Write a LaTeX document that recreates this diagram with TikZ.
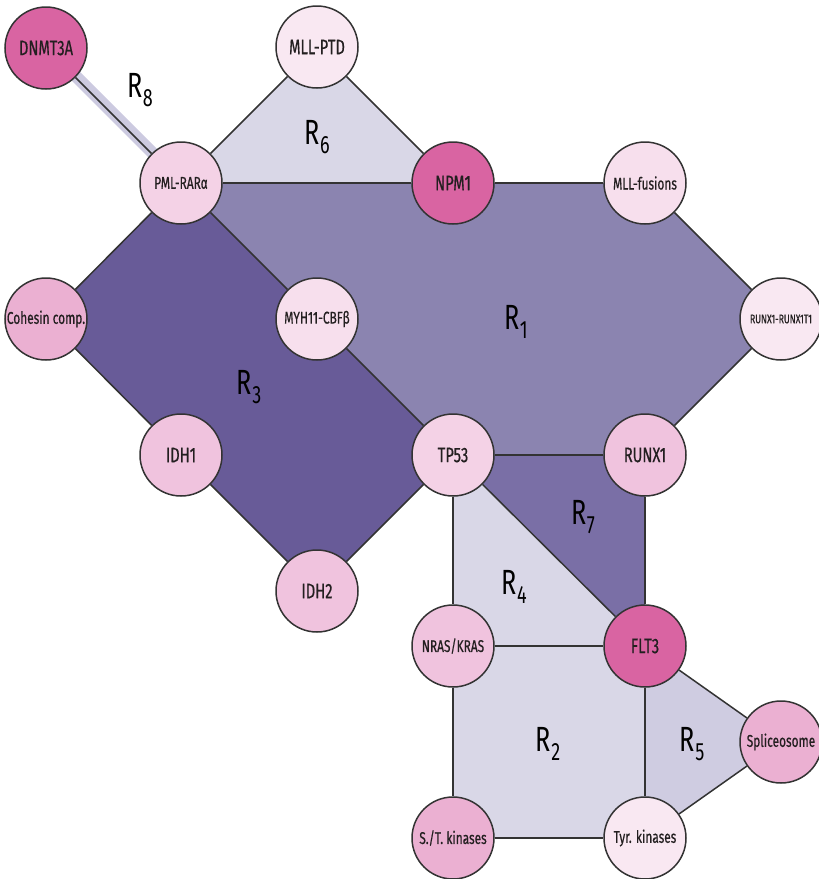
\documentclass[tikz,border=0pt]{standalone}
\usepackage{fontspec}
\setmainfont{Fira Sans}[FakeStretch=0.7, FakeBold=0.5]
\newfontfamily\regfont{Fira Sans}[FakeStretch=0.72]
\usetikzlibrary{backgrounds}
\definecolor{edgec}{HTML}{333333}
\definecolor{inkc}{HTML}{231F20}
\definecolor{rone}{HTML}{8B84B0}
\definecolor{rthree}{HTML}{685B98}
\definecolor{rseven}{HTML}{7A6FA6}
\definecolor{rlight}{HTML}{D9D7E7}
\definecolor{rfive}{HTML}{CFCCE1}
\definecolor{rband}{HTML}{CCCAE0}
\definecolor{cA}{HTML}{D964A2}
\definecolor{cB}{HTML}{EBB0D2}
\definecolor{cC}{HTML}{F0C3DE}
\definecolor{cD}{HTML}{F4D2E6}
\definecolor{cE}{HTML}{F7DFED}
\definecolor{cF}{HTML}{F9E8F2}
\tikzset{
  gene/.style={circle, draw=edgec, line width=1.5pt, minimum size=82pt, inner sep=0pt,
    text=inkc, font=\fontsize{21}{21}\selectfont},
  small/.style={font=\fontsize{17}{17}\selectfont},
  tiny/.style={font=\fontsize{12.5}{12.5}\selectfont},
  link/.style={draw=edgec, line width=1.5pt},
  rlab/.style={font=\regfont\fontsize{35}{35}\selectfont, text=black, inner sep=0pt},
}
\newcommand{\Rg}[1]{R\kern0.5pt\raisebox{-9pt}{\fontsize{25}{25}\selectfont #1}}
\begin{document}
\begin{tikzpicture}[x=1pt, y=-1pt]
\useasboundingbox (0,0) rectangle (819,879);

% genes
\node[gene, fill=cA] (dnmt) at (46,48) {DNMT3A};
\node[gene, fill=cF] (mllptd) at (317,47) {MLL-PTD};
\node[gene, small, fill=cD] (pml) at (181,183) {PML-RARα};
\node[gene, fill=cA] (npm) at (453,183) {NPM1};
\node[gene, small, fill=cE] (mllf) at (645,183) {MLL-fusions};
\node[gene, small, fill=cB] (coh) at (46,319) {Cohesin comp.};
\node[gene, small, fill=cE] (myh) at (317,319) {MYH11-CBFβ};
\node[gene, tiny, fill=cF] (rrt) at (781,319) {RUNX1-RUNX1T1};
\node[gene, fill=cC] (idha) at (181,455) {IDH1};
\node[gene, fill=cD] (tp) at (453,455) {TP53};
\node[gene, fill=cC] (runx) at (645,455) {RUNX1};
\node[gene, fill=cC] (idhb) at (317,591) {IDH2};
\node[gene, small, fill=cC] (ras) at (453,646) {NRAS/KRAS};
\node[gene, fill=cA] (flt) at (645,646) {FLT3};
\node[gene, small, fill=cB] (spl) at (781,742) {Spliceosome};
\node[gene, small, fill=cB] (stk) at (453,838) {S./T. kinases};
\node[gene, small, fill=cF] (tyk) at (645,838) {Tyr. kinases};

\begin{scope}[on background layer]
  % regions
  \fill[rone] (pml.center) -- (npm.center) -- (mllf.center) -- (rrt.center)
     -- (runx.center) -- (tp.center) -- (myh.center) -- cycle;
  \fill[rthree] (pml.center) -- (myh.center) -- (tp.center) -- (idhb.center)
     -- (idha.center) -- (coh.center) -- cycle;
  \fill[rlight] (pml.center) -- (mllptd.center) -- (npm.center) -- cycle;
  \fill[rseven] (tp.center) -- (runx.center) -- (flt.center) -- cycle;
  \fill[rlight] (tp.center) -- (flt.center) -- (ras.center) -- cycle;
  \fill[rlight] (ras.center) -- (flt.center) -- (tyk.center) -- (stk.center) -- cycle;
  \fill[rfive] (flt.center) -- (spl.center) -- (tyk.center) -- cycle;
  % R8: a pale band along the DNMT3A link
  \draw[rband, line width=12pt] ([shift={(0.8,-0.8)}]dnmt.center) -- ([shift={(0.8,-0.8)}]pml.center);

  % links
  \path[link] (dnmt) -- (pml);
  \path[link] (pml) -- (mllptd);
  \path[link] (mllptd) -- (npm);
  \path[link] (pml) -- (npm);
  \path[link] (npm) -- (mllf);
  \path[link] (mllf) -- (rrt);
  \path[link] (rrt) -- (runx);
  \path[link] (runx) -- (tp);
  \path[link] (tp) -- (myh);
  \path[link] (myh) -- (pml);
  \path[link] (pml) -- (coh);
  \path[link] (coh) -- (idha);
  \path[link] (idha) -- (idhb);
  \path[link] (idhb) -- (tp);
  \path[link] (runx) -- (flt);
  \path[link] (tp) -- (flt);
  \path[link] (tp) -- (ras);
  \path[link] (ras) -- (flt);
  \path[link] (ras) -- (stk);
  \path[link] (stk) -- (tyk);
  \path[link] (flt) -- (tyk);
  \path[link] (flt) -- (spl);
  \path[link] (spl) -- (tyk);
\end{scope}

% region labels
\node[rlab] (r1) at (516,322) {\Rg{1}};
\node[rlab] (r2) at (548,744) {\Rg{2}};
\node[rlab] (r3) at (249,387) {\Rg{3}};
\node[rlab] (r4) at (514,587) {\Rg{4}};
\node[rlab] (r5) at (692,744) {\Rg{5}};
\node[rlab] (r6) at (317,137) {\Rg{6}};
\node[rlab] (r7) at (583,517) {\Rg{7}};
\node[rlab] (r8) at (140,90) {\Rg{8}};
\end{tikzpicture}
\end{document}
